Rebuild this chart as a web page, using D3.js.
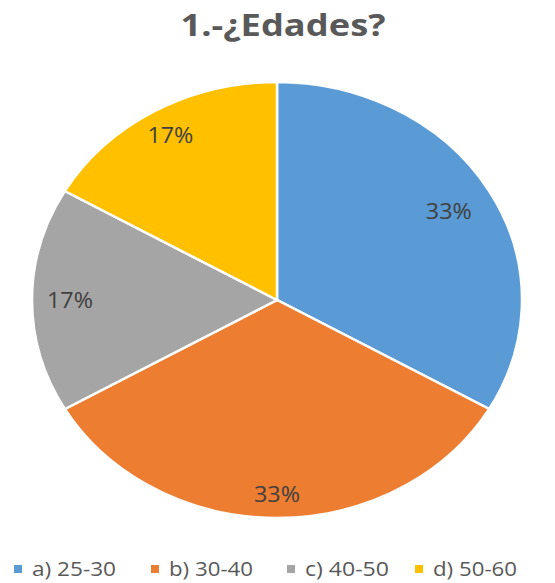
<!DOCTYPE html>
<html>
<head>
<meta charset="utf-8">
<script src="https://cdn.jsdelivr.net/npm/d3@7"></script>
<style>
  body { margin: 0; background: #fff; }
  svg { display: block; }
</style>
</head>
<body>
<div id="chart"></div>
<script>
// data
const categories = ["a) 25-30", "b) 30-40", "c) 40-50", "d) 50-60"];
const values = [2, 2, 1, 1];
const labels = ["33%", "33%", "17%", "17%"];
const colors = ["#5B9BD5", "#ED7D31", "#A5A5A5", "#FFC000"];
const title = "1.-¿Edades?";

const width = 555, height = 583;
const cx = 277, cy = 300, rx = 245, ry = 218;

const svg = d3.select("#chart").append("svg")
  .attr("width", width)
  .attr("height", height);

// title
svg.append("text")
  .attr("x", 283)
  .attr("y", 36)
  .attr("text-anchor", "middle")
  .attr("font-family", "Open Sans, sans-serif")
  .attr("font-weight", "bold")
  .attr("font-size", 31)
  .attr("textLength", 205)
  .attr("lengthAdjust", "spacingAndGlyphs")
  .attr("fill", "#595959")
  .text(title);

const pie = d3.pie().sort(null).value(d => d);
const arcs = pie(values);

const arc = d3.arc().innerRadius(0).outerRadius(rx);

const gPie = svg.append("g")
  .attr("transform", `translate(${cx},${cy}) scale(1,${ry / rx})`);

gPie.selectAll("path")
  .data(arcs)
  .enter().append("path")
  .attr("d", arc)
  .attr("fill", (d, i) => colors[i])
  .attr("stroke", "#fff")
  .attr("stroke-width", 2.5)
  .attr("vector-effect", "non-scaling-stroke");

// data labels (best-fit style radius per slice)
const labelR = [0.81, 0.89, 0.845, 0.87];
svg.selectAll(".lbl")
  .data(arcs)
  .enter().append("text")
  .attr("class", "lbl")
  .attr("transform", (d, i) => {
    const r = rx * labelR[i];
    const c = d3.arc().innerRadius(r).outerRadius(r).centroid(d);
    return `translate(${cx + c[0]},${cy + c[1] * ry / rx})`;
  })
  .attr("dy", "0.35em")
  .attr("text-anchor", "middle")
  .attr("font-family", "Open Sans, sans-serif")
  .attr("font-size", 22)
  .attr("textLength", 46)
  .attr("lengthAdjust", "spacingAndGlyphs")
  .attr("fill", "#404040")
  .text((d, i) => labels[i]);

// legend
const legendX = [14, 151, 287, 415];
const legend = svg.selectAll(".legend")
  .data(categories)
  .enter().append("g")
  .attr("class", "legend")
  .attr("transform", (d, i) => `translate(${legendX[i]},569)`);

legend.append("rect")
  .attr("x", 0)
  .attr("y", -4)
  .attr("width", 8)
  .attr("height", 8)
  .attr("fill", (d, i) => colors[i]);

legend.append("text")
  .attr("x", 18)
  .attr("y", 0)
  .attr("dy", "0.35em")
  .attr("font-family", "Open Sans, sans-serif")
  .attr("font-size", 20)
  .attr("textLength", 84)
  .attr("lengthAdjust", "spacingAndGlyphs")
  .attr("fill", "#595959")
  .text(d => d);
</script>
</body>
</html>
